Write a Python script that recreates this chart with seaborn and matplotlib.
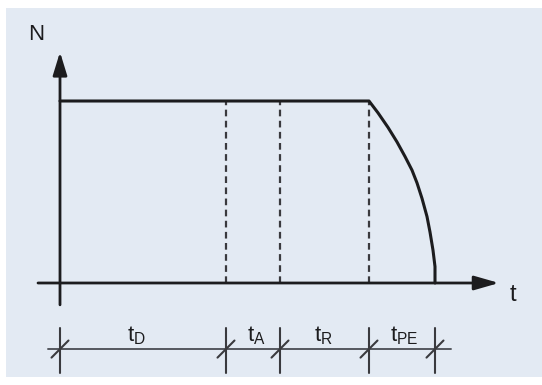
import numpy as np
import pandas as pd
import matplotlib
matplotlib.use("Agg")
import matplotlib.pyplot as plt
import seaborn as sns

# phase boundaries on the t axis (arbitrary time units) and N level
bounds = [0, 166, 220, 309, 375]
phase_labels = [r"$\mathregular{t_D}$", r"$\mathregular{t_A}$",
                r"$\mathregular{t_R}$", r"$\mathregular{t_{PE}}$"]
label_pos = [76, 196, 263, 344]

# speed curve: plateau then fall-off to zero
curve_t = [0, 309, 318, 328, 337, 345, 352, 357, 362, 367, 370, 373, 375, 375]
curve_n = [1.0, 1.0, 0.935, 0.855, 0.775, 0.695, 0.62, 0.55, 0.465, 0.365,
           0.28, 0.18, 0.09, 0.0]

ink = "#1c1c1e"
bg = "#e3eaf3"

sns.set_style("white")
plt.rcParams["font.family"] = ["Liberation Sans", "DejaVu Sans"]
plt.rcParams["mathtext.fontset"] = "custom"
plt.rcParams["mathtext.rm"] = "Liberation Sans"
plt.rcParams["mathtext.it"] = "Liberation Sans"

fig = plt.figure(figsize=(5.42, 3.85), dpi=100, facecolor="white")
ax = fig.add_axes([6 / 542, 8 / 385, 536 / 542, 369 / 385])
ax.set_facecolor(bg)
ax.set_xlim(-54, 482)
ax.set_ylim(-0.5165, 1.511)
ax.axis("off")
ax.add_patch(plt.Rectangle((0, 0), 1, 1, transform=ax.transAxes,
                           facecolor=bg, edgecolor="none", zorder=0))

df = pd.DataFrame({"t": curve_t, "N": curve_n})
sns.lineplot(data=df, x="t", y="N", ax=ax, color=ink, lw=2.2,
             sort=False, estimator=None, zorder=4,
             solid_joinstyle="round", solid_capstyle="round")

# dashed phase separators
for b in bounds[1:4]:
    ax.plot([b, b], [0, 1], color="#3a3a3e", lw=1.6, ls=(0, (3, 2)), zorder=3)

# axes with arrows
ax.annotate("", xy=(0, 1.269), xytext=(0, -0.12),
            arrowprops=dict(arrowstyle="-|>,head_length=14,head_width=4.3",
                            mutation_scale=1, lw=2.0, color=ink,
                            shrinkA=0, shrinkB=0), zorder=5)
ax.annotate("", xy=(439, 0), xytext=(-22, 0),
            arrowprops=dict(arrowstyle="-|>,head_length=15,head_width=4.3",
                            mutation_scale=1, lw=2.0, color=ink,
                            shrinkA=0, shrinkB=0), zorder=5)
ax.text(-24, 1.363, "N", fontsize=16, color=ink, ha="center", va="center")
ax.text(453, -0.065, "t", fontsize=17, color=ink, ha="center", va="center")

# dimension line under the axis
dim_y = -0.363
ax.plot([-12, 391], [dim_y, dim_y], color="#55585e", lw=1.4, zorder=3)
for b in bounds:
    ax.plot([b, b], [-0.247, -0.495], color="#3a3a3e", lw=1.5, zorder=3)
    ax.plot([b - 8.5, b + 8.5], [dim_y - 0.047, dim_y + 0.047],
            color="#3a3a3e", lw=1.5, zorder=3)
for lab, x in zip(phase_labels, label_pos):
    ax.text(x, -0.319, lab, fontsize=16, color=ink, ha="center", va="baseline")

fig.savefig("out.png", dpi=100, facecolor="white")
